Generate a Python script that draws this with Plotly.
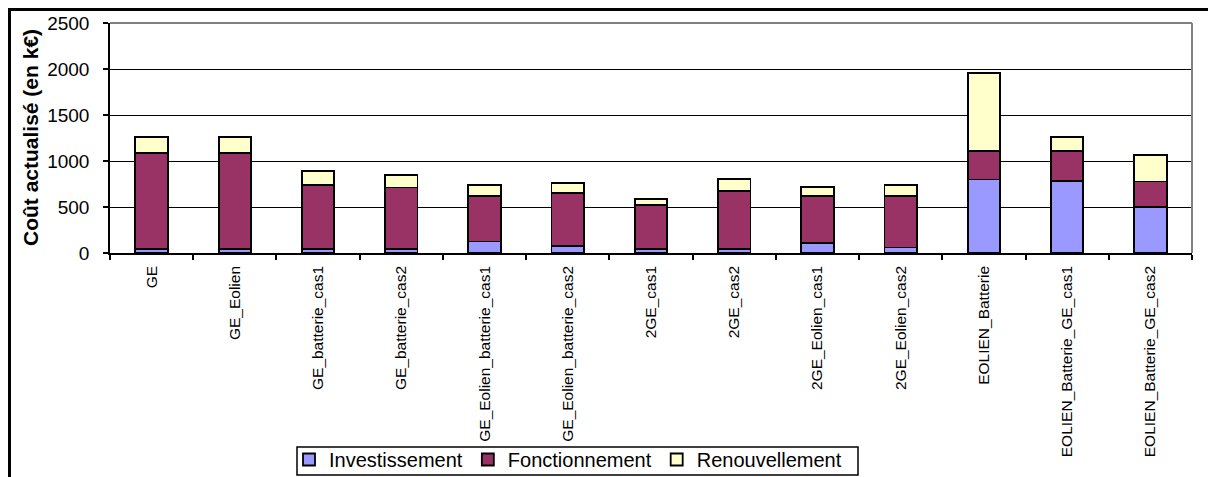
import plotly.graph_objects as go

# Scenario names (x categories)
categories = [
    "GE", "GE_Eolien", "GE_batterie_cas1", "GE_batterie_cas2",
    "GE_Eolien_batterie_cas1", "GE_Eolien_batterie_cas2",
    "2GE_cas1", "2GE_cas2", "2GE_Eolien_cas1", "2GE_Eolien_cas2",
    "EOLIEN_Batterie", "EOLIEN_Batterie_GE_cas1", "EOLIEN_Batterie_GE_cas2",
]

# Discounted cost components in k€
investissement = [45, 45, 45, 45, 125, 80, 45, 45, 105, 60, 800, 780, 500]
fonctionnement = [1040, 1040, 690, 668, 498, 572, 473, 625, 518, 563, 305, 325, 278]
renouvellement = [180, 180, 155, 137, 119, 112, 72, 138, 94, 119, 851, 159, 287]

y_ticks = [0, 500, 1000, 1500, 2000, 2500]

FONT = "Arial, 'Liberation Sans', sans-serif"
W, H = 1208, 477
L, R, T, B = 110, 16, 23, 224
PW, PH = W - L - R, H - T - B


def px_x(p):
    return (p - L) / PW


def px_y(p):
    return (H - B - p) / PH


series = [
    ("Investissement", investissement, "#9999FF"),
    ("Fonctionnement", fonctionnement, "#993366"),
    ("Renouvellement", renouvellement, "#FFFFCC"),
]

fig = go.Figure()
for name, vals, color in series:
    fig.add_trace(go.Bar(
        name=name, x=categories, y=vals,
        marker=dict(color=color, line=dict(color="black", width=1.8)),
    ))

fig.update_layout(
    width=W, height=H, autosize=False,
    margin=dict(l=L, r=R, t=T, b=B, pad=0, autoexpand=False),
    barmode="stack", bargap=0.61,
    plot_bgcolor="white", paper_bgcolor="white",
    font=dict(family=FONT, color="black"),
    showlegend=True,
    legend=dict(
        orientation="h", traceorder="normal",
        x=px_x(289), y=px_y(440), xanchor="left", yanchor="top",
        font=dict(size=20, family=FONT, color="black"),
        bgcolor="rgba(0,0,0,0)", borderwidth=0,
    ),
)

fig.update_xaxes(
    type="category", tickangle=-90, tickson="boundaries",
    ticks="outside", ticklen=5, tickwidth=1.5, tickcolor="black",
    showline=True, linecolor="black", linewidth=1.5,
    showgrid=False, ticklabelstandoff=5, automargin=False,
    tickfont=dict(size=15.5, family=FONT, color="black"),
)
fig.update_yaxes(
    range=[0, 2500], tickvals=y_ticks, ticktext=[str(v) for v in y_ticks],
    ticks="outside", ticklen=5, tickwidth=1.5, tickcolor="black",
    showline=True, linecolor="black", linewidth=1.5,
    showgrid=True, gridcolor="black", gridwidth=1,
    zeroline=False, ticklabelstandoff=10, automargin=False,
    tickfont=dict(size=19, family=FONT, color="black"),
)

# Axis title
fig.add_annotation(
    text="<b>Coût actualisé (en k€)</b>", textangle=-90,
    xref="paper", yref="paper", x=px_x(30), y=0.5,
    xanchor="center", yanchor="middle", showarrow=False,
    font=dict(size=21, family=FONT, color="black"),
)

# Grey plot-area border on top and right
fig.add_shape(type="line", xref="paper", yref="paper", x0=0, x1=1, y0=1, y1=1,
              line=dict(color="#808080", width=2), layer="above")
fig.add_shape(type="line", xref="paper", yref="paper", x0=1, x1=1, y0=0, y1=1,
              line=dict(color="#808080", width=2), layer="above")

# Legend frame
fig.add_shape(type="rect", xref="paper", yref="paper",
              x0=px_x(297), x1=px_x(858), y0=px_y(475), y1=px_y(447),
              line=dict(color="black", width=1.5), fillcolor="white",
              layer="above")

# Chart-area frame (left and top edges), drawn as thin filled bands
fig.add_shape(type="rect", xref="paper", yref="paper",
              x0=px_x(8), x1=px_x(W), y0=px_y(11), y1=px_y(8),
              line=dict(width=0), fillcolor="black", layer="above")
fig.add_shape(type="rect", xref="paper", yref="paper",
              x0=px_x(8), x1=px_x(11), y0=px_y(H), y1=px_y(8),
              line=dict(width=0), fillcolor="black", layer="above")

fig.write_html("out.html", config={"displayModeBar": False})
